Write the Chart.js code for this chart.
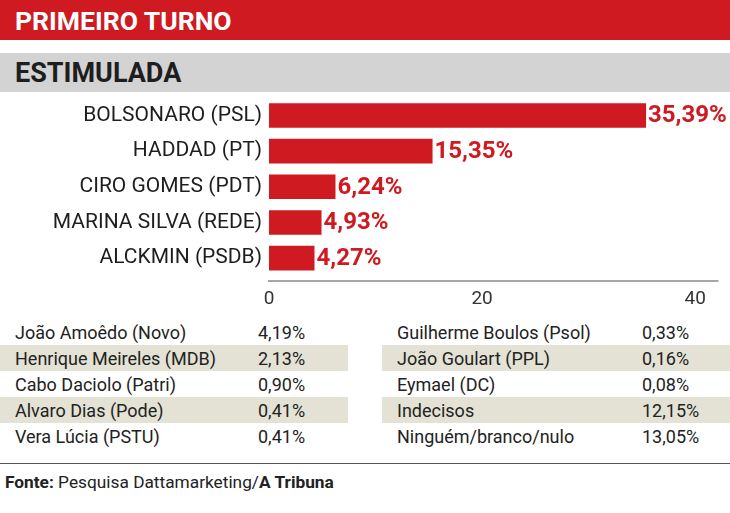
<!DOCTYPE html>
<html>
<head>
<meta charset="utf-8">
<script src="https://cdn.jsdelivr.net/npm/chart.js@4"></script>
<style>
  body { margin: 0; width: 730px; height: 513px; background: #fff; position: relative; overflow: hidden; font-family: Roboto, sans-serif; color: #222; }
  .band { position: absolute; left: 0; width: 730px; box-sizing: border-box; padding-left: 15px; font-weight: bold; }
  #title { top: 0; height: 40px; line-height: 41px; background: #cf1a21; color: #fff; font-size: 26.5px; }
  #subtitle { top: 53px; height: 39px; line-height: 41px; background: #d3d3d3; color: #1e1e1e; font-size: 27px; }
  #chartBox { position: absolute; left: 0; top: 78px; width: 730px; height: 234px; }
  table { position: absolute; top: 319px; border-collapse: collapse; font-size: 18px; color: #222; }
  td { height: 26px; padding: 0; white-space: nowrap; }
  tr.odd td { background: #e3e2d4; }
  #tblLeft { left: 0; width: 348px; }
  #tblRight { left: 382px; width: 348px; }
  #tblLeft td.name { padding-left: 15px; width: 243px; }
  #tblRight td.name { padding-left: 15px; width: 245px; }
  #rule { position: absolute; left: 0; top: 463px; width: 730px; height: 0; border-top: 1.5px solid #555; }
  #source { position: absolute; left: 5px; top: 472px; font-size: 17.3px; color: #222; }
</style>
</head>
<body>
<div id="title" class="band">PRIMEIRO TURNO</div>
<div id="subtitle" class="band">ESTIMULADA</div>
<div id="chartBox"><canvas id="chart"></canvas></div>
<table id="tblLeft"></table>
<table id="tblRight"></table>
<div id="rule"></div>
<div id="source"><b>Fonte:</b> Pesquisa Dattamarketing/<b>A Tribuna</b></div>
<script>
const candidates = ['BOLSONARO (PSL)', 'HADDAD (PT)', 'CIRO GOMES (PDT)', 'MARINA SILVA (REDE)', 'ALCKMIN (PSDB)'];
const votes = [35.39, 15.35, 6.24, 4.93, 4.27];
const xTicks = [0, 20, 40];

const othersLeft = ['João Amoêdo (Novo)', 'Henrique Meireles (MDB)', 'Cabo Daciolo (Patri)', 'Alvaro Dias (Pode)', 'Vera Lúcia (PSTU)'];
const othersLeftVotes = [4.19, 2.13, 0.90, 0.41, 0.41];
const othersRight = ['Guilherme Boulos (Psol)', 'João Goulart (PPL)', 'Eymael (DC)', 'Indecisos', 'Ninguém/branco/nulo'];
const othersRightVotes = [0.33, 0.16, 0.08, 12.15, 13.05];

const red = '#cf1a21';
const pct = v => v.toFixed(2).replace('.', ',') + '%';

function fillTable(id, names, vals) {
  const t = document.getElementById(id);
  names.forEach((n, i) => {
    const tr = document.createElement('tr');
    if (i % 2 === 1) tr.className = 'odd';
    tr.innerHTML = '<td class="name">' + n + '</td><td>' + pct(vals[i]) + '</td>';
    t.appendChild(tr);
  });
}
fillTable('tblLeft', othersLeft, othersLeftVotes);
fillTable('tblRight', othersRight, othersRightVotes);

// value labels at the end of each bar
const valueLabels = {
  id: 'valueLabels',
  afterDatasetsDraw(chart) {
    const ctx = chart.ctx;
    const meta = chart.getDatasetMeta(0);
    ctx.save();
    ctx.fillStyle = red;
    ctx.font = 'bold 24px Roboto';
    ctx.textBaseline = 'middle';
    meta.data.forEach((bar, i) => {
      ctx.fillText(pct(votes[i]), bar.x + 2, bar.y + 1);
    });
    ctx.restore();
  }
};

// axis line sits a little below the bars
const axisLine = {
  id: 'axisLine',
  afterDraw(chart) {
    const a = chart.chartArea, ctx = chart.ctx;
    ctx.save();
    ctx.strokeStyle = '#8a8a8a';
    ctx.lineWidth = 1.5;
    ctx.beginPath();
    ctx.moveTo(a.left - 1, a.bottom + 5);
    ctx.lineTo(a.right + 2, a.bottom + 5);
    ctx.stroke();
    ctx.restore();
  }
};

new Chart(document.getElementById('chart'), {
  type: 'bar',
  data: {
    labels: candidates,
    datasets: [{
      data: votes,
      backgroundColor: red,
      barPercentage: 0.69,
      categoryPercentage: 1
    }]
  },
  options: {
    indexAxis: 'y',
    responsive: true,
    maintainAspectRatio: false,
    animation: false,
    layout: { padding: { top: 3.5, right: 13.5, left: 0, bottom: 0 } },
    plugins: { legend: { display: false }, tooltip: { enabled: false } },
    scales: {
      x: {
        min: 0,
        max: 42,
        afterBuildTicks: s => { s.ticks = xTicks.map(v => ({ value: v })); },
        afterFit: s => { s.height = 36; },
        grid: { display: false, drawTicks: false },
        border: { display: false },
        ticks: { color: '#333', font: { family: 'Roboto', size: 19 }, padding: 12 }
      },
      y: {
        afterFit: s => { s.width = 269; },
        grid: { display: false, drawTicks: false },
        border: { display: false },
        ticks: { color: '#1e1e1e', font: { family: 'Roboto', size: 21 }, padding: 7 }
      }
    }
  },
  plugins: [valueLabels, axisLine]
});
</script>
</body>
</html>
